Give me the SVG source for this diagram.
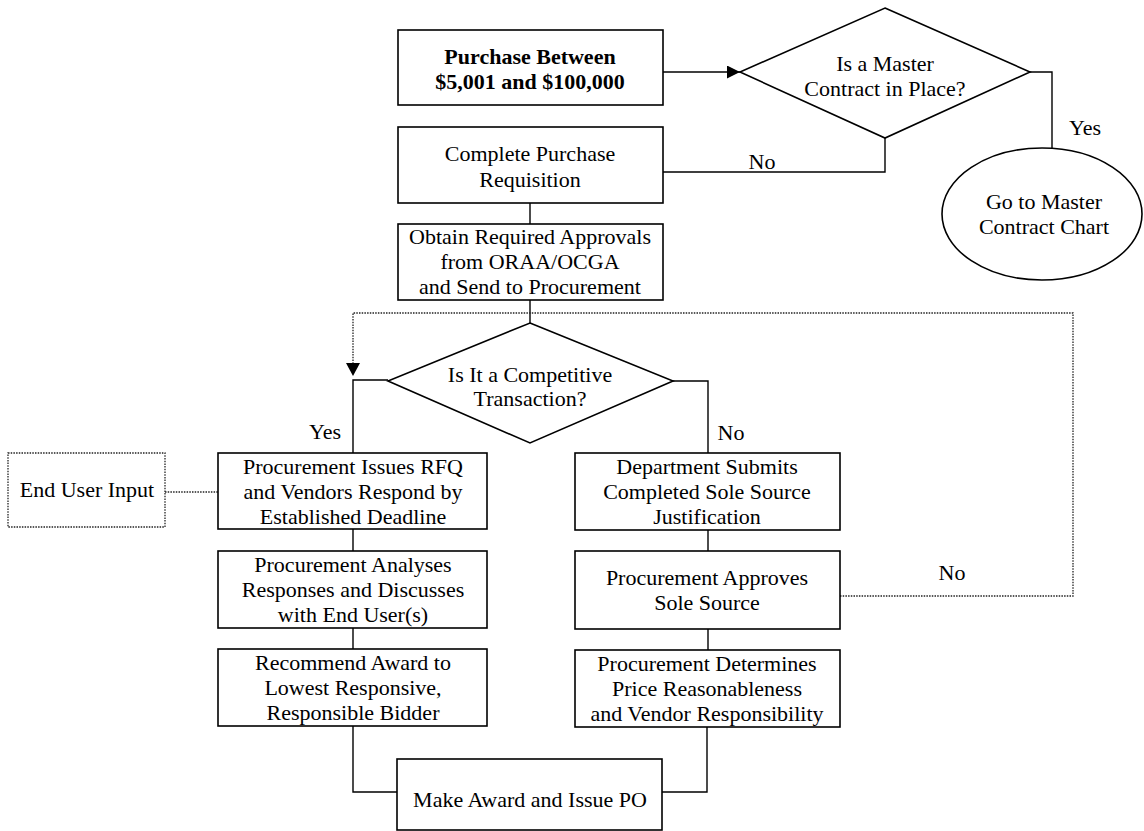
<svg xmlns="http://www.w3.org/2000/svg" width="1144" height="831" viewBox="0 0 1144 831">
<style>
.s{fill:#fff;stroke:#000;stroke-width:1.6}
.d{fill:#fff;stroke:#222;stroke-width:1.3;stroke-dasharray:1.5 1.2}
.c{fill:none;stroke:#000;stroke-width:1.4}
.cd{fill:none;stroke:#222;stroke-width:1.3;stroke-dasharray:1.5 1.2}
text{font-family:"Liberation Serif","Times New Roman",serif;font-size:22px;fill:#000;text-anchor:middle}
.b{font-weight:bold}
</style>
<defs>
<marker id="ah" viewBox="0 0 10 10" refX="10" refY="5" markerWidth="13" markerHeight="13" markerUnits="userSpaceOnUse" orient="auto">
<path d="M0,0 L10,5 L0,10 Z" fill="#000"/>
</marker>
</defs>
<rect width="1144" height="831" fill="#fff"/>
<g id="connectors">
<line class="c" x1="663" y1="72" x2="740" y2="72" marker-end="url(#ah)"/>
<polyline class="c" points="1030,72 1052,72 1052,148"/>
<polyline class="c" points="885,138 885,172 663,172"/>
<line class="c" x1="530" y1="203" x2="530" y2="224"/>
<line class="c" x1="530" y1="300" x2="530" y2="323"/>
<polyline class="c" points="388,380 353,380 353,453"/>
<polyline class="c" points="673,381 708,381 708,453"/>
<line class="c" x1="353" y1="529" x2="353" y2="551"/>
<line class="c" x1="353" y1="628" x2="353" y2="649"/>
<line class="c" x1="708" y1="530" x2="708" y2="551"/>
<line class="c" x1="708" y1="629" x2="708" y2="650"/>
<polyline class="c" points="353,726 353,792 397,792"/>
<polyline class="c" points="707,727 707,792 662,792"/>
<polyline class="cd" points="840,596 1073,596 1073,313 353,313 353,365"/>
<path d="M346,363 L360,363 L353,376 Z" fill="#000"/>
<line class="cd" x1="165" y1="492" x2="218" y2="492"/>
<text x="762" y="169">No</text>
<text x="1085" y="135">Yes</text>
<text x="325" y="439">Yes</text>
<text x="731" y="440">No</text>
<text x="952" y="580">No</text>
</g>
<g id="n-start">
<rect class="s" x="398" y="30" width="265" height="75"/>
<text class="b" x="530" y="64">Purchase Between</text>
<text class="b" x="530" y="89">$5,001 and $100,000</text>
</g>
<g id="n-master">
<polygon class="s" points="885,8 1030,72 885,138 740,72"/>
<text x="885" y="71">Is a Master</text>
<text x="885" y="96">Contract in Place?</text>
</g>
<g id="n-gomaster">
<ellipse class="s" cx="1042" cy="214" rx="100" ry="66"/>
<text x="1044" y="209">Go to Master</text>
<text x="1044" y="234">Contract Chart</text>
</g>
<g id="n-req">
<rect class="s" x="398" y="127" width="265" height="76"/>
<text x="530" y="161">Complete Purchase</text>
<text x="530" y="187">Requisition</text>
</g>
<g id="n-approvals">
<rect class="s" x="398" y="224" width="265" height="76"/>
<text x="530" y="244">Obtain Required Approvals</text>
<text x="530" y="269">from ORAA/OCGA</text>
<text x="530" y="294">and Send to Procurement</text>
</g>
<g id="n-competitive">
<polygon class="s" points="530,323 673,381 530,443 388,381"/>
<text x="530" y="382">Is It a Competitive</text>
<text x="530" y="406">Transaction?</text>
</g>
<g id="n-enduser">
<rect class="d" x="8" y="453" width="157" height="74"/>
<text x="87" y="497">End User Input</text>
</g>
<g id="n-rfq">
<rect class="s" x="218" y="453" width="269" height="76"/>
<text x="353" y="474">Procurement Issues RFQ</text>
<text x="353" y="499">and Vendors Respond by</text>
<text x="353" y="524">Established Deadline</text>
</g>
<g id="n-analyses">
<rect class="s" x="218" y="551" width="269" height="77"/>
<text x="353" y="572">Procurement Analyses</text>
<text x="353" y="597">Responses and Discusses</text>
<text x="353" y="622">with End User(s)</text>
</g>
<g id="n-recommend">
<rect class="s" x="218" y="649" width="269" height="77"/>
<text x="353" y="670">Recommend Award to</text>
<text x="353" y="695">Lowest Responsive,</text>
<text x="353" y="720">Responsible Bidder</text>
</g>
<g id="n-solesource">
<rect class="s" x="575" y="453" width="265" height="77"/>
<text x="707" y="474">Department Submits</text>
<text x="707" y="499">Completed Sole Source</text>
<text x="707" y="524">Justification</text>
</g>
<g id="n-approves">
<rect class="s" x="575" y="551" width="265" height="78"/>
<text x="707" y="585">Procurement Approves</text>
<text x="707" y="610">Sole Source</text>
</g>
<g id="n-determines">
<rect class="s" x="575" y="650" width="265" height="77"/>
<text x="707" y="671">Procurement Determines</text>
<text x="707" y="696">Price Reasonableness</text>
<text x="707" y="721">and Vendor Responsibility</text>
</g>
<g id="n-award">
<rect class="s" x="397" y="759" width="265" height="71"/>
<text x="530" y="807">Make Award and Issue PO</text>
</g>
</svg>
